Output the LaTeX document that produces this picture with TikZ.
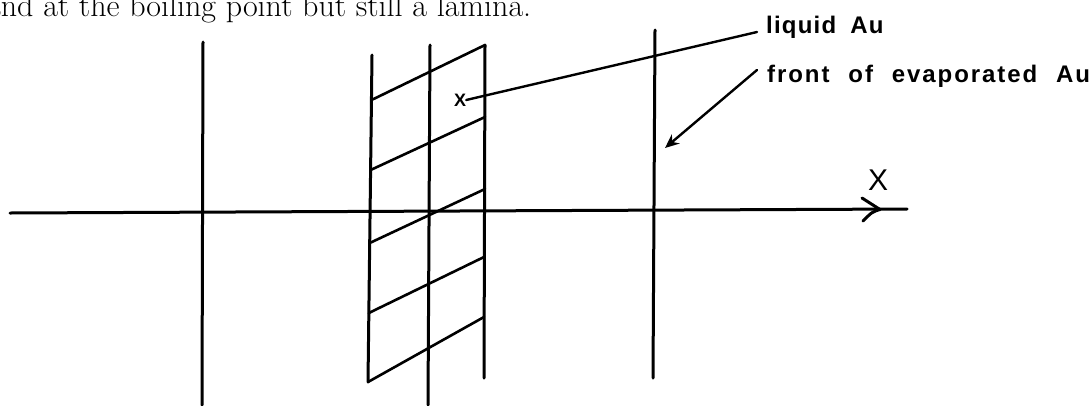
\documentclass[tikz,border=0pt]{standalone}
\usepackage{fontspec}
\usetikzlibrary{arrows.meta}
\newfontfamily\labelfont[LetterSpace=5,WordSpace=1.8]{Liberation Sans}
\newfontfamily\widelabelfont[LetterSpace=8,WordSpace=2.2]{Liberation Sans}
\newfontfamily\axisfont{Liberation Sans}
\begin{document}
\begin{tikzpicture}[x=1pt,y=-1pt,
  stroke/.style={line width=3pt,line cap=round},
  hatch/.style={line width=2.6pt,line cap=round},
  lab/.style={font=\labelfont\bfseries\fontsize{24}{28}\selectfont,inner sep=0pt,anchor=base west},
  widelab/.style={font=\widelabelfont\bfseries\fontsize{24}{28}\selectfont,inner sep=0pt,anchor=base west},
  leader/.style={line width=2.4pt,line cap=round}]
\useasboundingbox (0,0) rectangle (1089,405);
% cut-off line of running text at the top
\node[anchor=base west,inner sep=0pt,font=\fontsize{32}{36}\selectfont] (toptext) at (-14,16) {and at the boiling point but still a lamina.};
% axis
\coordinate (axL) at (10,213);
\coordinate (axR) at (907,209);
\draw[stroke] (axL) -- (axR);
\coordinate (tipU) at (862,198);
\coordinate (tip) at (880,209.5);
\coordinate (tipD) at (863,221);
\draw[stroke,line join=round] (tipU) -- (tip) .. controls (872,212) .. (tipD);
\node[font=\axisfont\fontsize{30}{32}\selectfont,inner sep=0pt] (xlab) at (878,180) {X};
% vertical lines
\coordinate (v1t) at (203,42);   \coordinate (v1b) at (202,405);
\coordinate (Lt) at (372,55);    \coordinate (Lb) at (368,382);
\coordinate (Mt) at (430,45);    \coordinate (Mb) at (428,405);
\coordinate (Rt) at (485,45);    \coordinate (Rb) at (484,378);
\coordinate (v3t) at (655,30);   \coordinate (v3b) at (653,378);
\foreach \a/\b in {v1t/v1b,Lt/Lb,Mt/Mb,Rt/Rb,v3t/v3b}
  \draw[stroke] (\a) -- (\b);
% hatch lines of the lamina
\coordinate (h1a) at (371.5,100); \coordinate (h1b) at (485,45);
\coordinate (h2a) at (370.6,170); \coordinate (h2b) at (485,117);
\coordinate (h3a) at (369.7,243); \coordinate (h3b) at (485,189);
\coordinate (h4a) at (368.8,313); \coordinate (h4b) at (484,257);
\coordinate (h5a) at (368,382);   \coordinate (h5b) at (484,317);
\foreach \i in {1,...,5}
  \draw[hatch] (h\i a) -- (h\i b);
% marker and labels
\node[font=\axisfont\bfseries\fontsize{18}{20}\selectfont,inner sep=0pt] (xm) at (460,100) {X};
\node[lab] (liq) at (766,33) {liquid Au};
\node[widelab] (front) at (767,82) {front of evaporated Au};
\coordinate (liqS) at (757,32);
\coordinate (frontS) at (757,70);
\coordinate (frontT) at (665,148);
\draw[leader] (liqS) -- (xm.east);
\draw[leader,-{Stealth[length=14pt,width=12pt]}] (frontS) -- (frontT);
\end{tikzpicture}
\end{document}
